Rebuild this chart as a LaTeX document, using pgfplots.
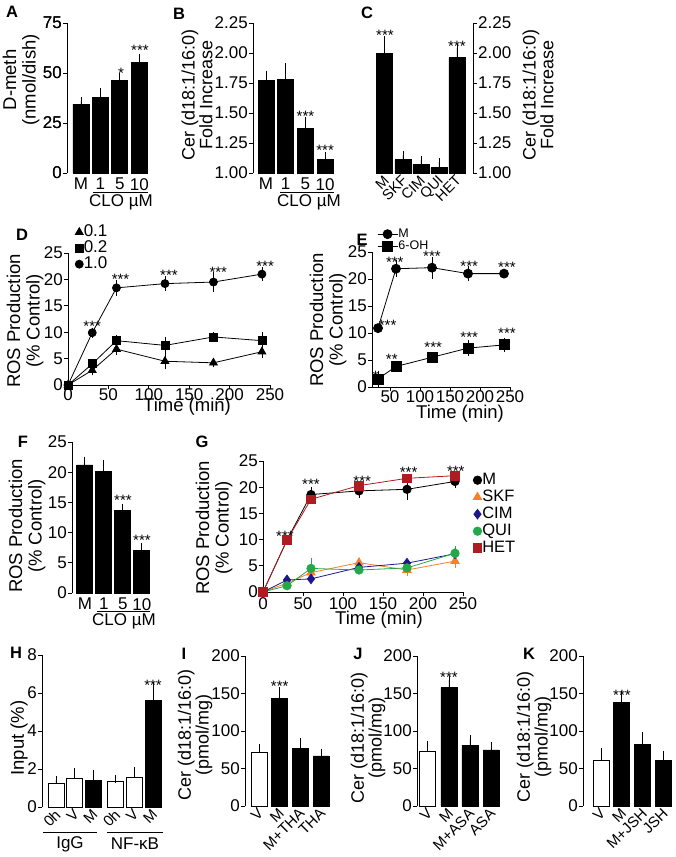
\documentclass[border=0pt]{standalone}
\usepackage{fontspec}
\setmainfont{Liberation Sans}
\usepackage{pgfplots}
\pgfplotsset{compat=1.18}
\definecolor{hetred}{RGB}{172,28,32}
\definecolor{skforange}{RGB}{250,128,35}
\definecolor{cimblue}{RGB}{32,22,140}
\definecolor{quigreen}{RGB}{35,168,75}
\newcommand{\tfont}{\fontsize{17}{17}\selectfont}
\newcommand{\rfont}{\fontsize{15}{15}\selectfont}
\newcommand{\lfont}{\fontsize{18.5}{19.5}\selectfont}
\newcommand{\cfont}{\fontsize{18}{16.5}\selectfont}
\newcommand{\sfont}{\fontsize{15}{15}\selectfont}
\newcommand{\pfont}{\fontsize{16.5}{16.5}\selectfont\bfseries}
\tikzset{st/.style={font=\sfont, anchor=base, yshift=-8.5pt, inner sep=0pt},
 yl/.style={rotate=90, align=center, font=\lfont, inner sep=0pt},
 yc/.style={rotate=90, align=center, font=\cfont, inner sep=0pt},
 pl/.style={font=\pfont, inner sep=0pt},
 ytl/.style={font=\tfont, anchor=east, inner sep=1pt}}
\pgfplotsset{
 base/.style={scale only axis, clip=false, anchor=south west, tick align=outside, major tick length=4pt,
  axis y line*=left, axis x line*=bottom,
  axis line style={-, line width=0.9pt, black},
  tick style={line width=0.9pt, black},
  tick label style={font=\tfont},
  yticklabel style={inner sep=1pt},
  xticklabel style={inner sep=1pt},
  /pgf/number format/assume math mode=true},
 bars/.style={base, x axis line style={draw=none}, xtick style={draw=none}},
 rot/.style={xticklabel style={rotate=45, anchor=north east, inner sep=0.5pt, yshift=4pt, xshift=1pt, font=\rfont}},
 two/.style={yticklabel style={/pgf/number format/fixed, /pgf/number format/fixed zerofill, /pgf/number format/precision=2}},
 bk/.style={ybar, bar width=16pt, bar shift=0pt, fill=black, draw=black, line width=0.9pt,
   /pgfplots/error bars/y dir=plus, /pgfplots/error bars/y explicit,
   /pgfplots/error bars/error bar style={line width=0.9pt, black},
   /pgfplots/error bars/error mark options={mark size=4pt, line width=0.9pt, black}},
 wh/.style={bk, fill=white},
 eb/.style={/pgfplots/error bars/y dir=both, /pgfplots/error bars/y explicit,
   /pgfplots/error bars/error bar style={line width=0.8pt},
   /pgfplots/error bars/error mark options={mark size=3.5pt, line width=0.8pt}},
 ln/.style={line width=0.8pt, mark options={solid}},
}
\begin{document}
\begin{tikzpicture}
\useasboundingbox (0pt,0pt) rectangle (675pt,-857pt);

% ---------- A ----------
\begin{axis}[bars, anchor=north west, at={(67pt,-23pt)}, width=82pt, height=150pt, xmin=-0.72, xmax=3.5, ymin=0, ymax=75,
  ytick={0,25,50,75}, xtick={0,1,2,3}, xticklabels={M,1,5,10}]
\addplot[bk] coordinates {(0,34.5) +- (0,1.5) (1,38) +- (0,2.5) (2,46.5) +- (0,1.5) (3,55.5) +- (0,2)};
\draw[line width=0.9pt] (axis cs:-0.72,0) -- (axis cs:-0.72,75);
\draw[line width=0.9pt] (axis cs:-0.72,0) -- ([xshift=-4pt]axis cs:-0.72,0);
\draw[line width=0.9pt] (axis cs:-0.72,25) -- ([xshift=-4pt]axis cs:-0.72,25);
\draw[line width=0.9pt] (axis cs:-0.72,50) -- ([xshift=-4pt]axis cs:-0.72,50);
\draw[line width=0.9pt] (axis cs:-0.72,75) -- ([xshift=-4pt]axis cs:-0.72,75);
\node[ytl] at ([xshift=-4pt]axis cs:-0.72,0) {0};
\node[ytl] at ([xshift=-4pt]axis cs:-0.72,25) {25};
\node[ytl] at ([xshift=-4pt]axis cs:-0.72,50) {50};
\node[ytl] at ([xshift=-4pt]axis cs:-0.72,75) {75};
\end{axis}
\node[st] at (121pt,-70pt) {*};
\node[st] at (140pt,-47pt) {***};
\draw[line width=0.9pt] (93pt,-192pt) -- (148pt,-192pt);
\node[font=\tfont] at (121pt,-202pt) {CLO µM};
\node[yl] at (21pt,-80pt) {D-meth\\(nmol/dish)};
\node[pl] at (12pt,-12pt) {A};

% ---------- B ----------
\begin{axis}[bars, clip=true, clip mode=individual, two, at={(253pt,-173pt)}, width=82pt, height=150pt,
  xmin=-0.66, xmax=3.5, ymin=1, ymax=2.25, ytick={1,1.25,1.5,1.75,2,2.25},
  xtick={0,1,2,3}, xticklabels={M,1,5,10}]
\addplot[bk] coordinates {(0,1.77) +- (0,0.05) (1,1.78) +- (0,0.10) (2,1.37) +- (0,0.06) (3,1.11) +- (0,0.03)};
\node[st] at (axis cs:2,1.5) {***};
\node[st] at (axis cs:3,1.217) {***};
\end{axis}
\draw[line width=0.9pt] (280pt,-192pt) -- (334pt,-192pt);
\node[font=\tfont] at (309pt,-202pt) {CLO µM};
\node[yc] at (197pt,-95pt) {Cer (d18:1/16:0)\\Fold Increase};
\node[pl] at (179pt,-14pt) {B};

% ---------- C ----------
\begin{axis}[bars, clip=true, clip mode=individual, two, rot, axis y line*=right, at={(370pt,-173pt)}, width=103pt, height=150pt,
  xmin=-0.83, xmax=4.89, ymin=1, ymax=2.25, ytick={1,1.25,1.5,1.75,2,2.25},
  xtick={0,1,2,3,4}, xticklabels={M,SKF,CIM,QUI,HET}, xticklabel style={font=\fontsize{14.5}{14.5}\selectfont}]
\addplot[bk] coordinates {(0,2.0) +- (0,0.11) (1,1.11) +- (0,0.04) (2,1.07) +- (0,0.04) (3,1.045) +- (0,0.045) (4,1.96) +- (0,0.08)};
\node[st] at (axis cs:0,2.175) {***};
\node[st] at (axis cs:4,2.083) {***};
\end{axis}
\node[yc] at (538pt,-95pt) {Cer (d18:1/16:0)\\Fold Increase};
\node[pl] at (367pt,-13pt) {C};

% ---------- D ----------
\begin{axis}[base, at={(68pt,-385pt)}, width=202pt, height=132pt, xmin=0, xmax=250, ymin=0, ymax=25,
  xtick={0,50,100,150,200,250}, ytick={0,5,10,15,20,25}, xticklabel style={yshift=2pt},
  legend style={draw=none, fill=none, at={(0.035,1.22)}, anchor=north west, font=\tfont, inner sep=0pt, row sep=0pt,
    nodes={inner sep=0.5pt, text height=12pt, text depth=3pt}},
  legend cell align=left, legend image code/.code={\draw[#1] plot coordinates {(0pt,0pt)};}]
\addplot[black, ln, mark=triangle*, mark size=4.5pt, eb] coordinates {(0,0) (30,2.8) +- (0,0.3) (60,6.8) +- (0,0.5) (120,4.5) +- (0,0.9) (180,4.2) +- (0,0.2) (240,6.3) +- (0,0.5)};
\addplot[black, ln, mark=square*, mark size=4pt, eb] coordinates {(0,0) (30,4.0) +- (0,0.3) (60,8.4) +- (0,0.5) (120,7.5) +- (0,1.0) (180,9.1) +- (0,0.3) (240,8.4) +- (0,1.0)};
\addplot[black, ln, mark=*, mark size=4pt, eb] coordinates {(0,0) (30,9.9) +- (0,0.3) (60,18.4) +- (0,0.8) (120,19.2) +- (0,0.7) (180,19.5) +- (0,1.3) (240,21.0) +- (0,0.6)};
\legend{0.1,0.2,1.0}
\node[st] at (axis cs:30,11.7) {***};
\node[st] at (axis cs:65,20.6) {***};
\node[st] at (axis cs:125,21.4) {***};
\node[st] at (axis cs:186,22.0) {***};
\node[st] at (axis cs:244,23.1) {***};
\end{axis}
\node[font=\lfont] at (187pt,-407pt) {Time (min)};
\node[yl] at (25pt,-321pt) {ROS Production\\(\% Control)};
\node[pl] at (22pt,-235pt) {D};

% ---------- E ----------
\begin{axis}[base, at={(372pt,-387pt)}, width=138pt, height=135pt, xmin=20, xmax=250, ymin=0, ymax=25,
  xtick={50,100,150,200,250}, ytick={0,5,10,15,20,25}, xticklabel style={yshift=2pt},
  legend style={draw=none, fill=none, at={(0.036,1.18)}, anchor=north west, font=\fontsize{12.5}{12.5}\selectfont, inner sep=0pt, row sep=0pt,
    nodes={inner sep=0.5pt, text height=9pt, text depth=2.5pt}},
  legend cell align=left, legend image code/.code={\draw[mark repeat=2, mark phase=2, #1] plot coordinates {(0pt,0pt) (10pt,0pt) (20pt,0pt)};}]
\addplot[black, ln, mark=*, mark size=4.5pt, eb] coordinates {(30,10.9) (60,21.9) +- (0,0.9) (120,22.1) +- (0,1.4) (180,21.0) +- (0,0.8) (240,21.0)};
\addplot[black, ln, mark=square*, mark size=5pt, eb] coordinates {(30,1.5) +- (0,0.9) (60,3.8) +- (0,0.4) (120,5.5) (180,7.2) +- (0,0.8) (240,7.8) +- (0,0.7)};
\legend{M,6-OH}
\node[st] at (axis cs:46,12.0) {***};
\node[st] at (axis cs:58,23.7) {***};
\node[st] at (axis cs:120,24.8) {***};
\node[st] at (axis cs:182,23.0) {***};
\node[st] at (axis cs:245,22.8) {***};
\node[st] at (axis cs:26,2.6) {*};
\node[st] at (axis cs:53,5.7) {**};
\node[st] at (axis cs:122,8.0) {***};
\node[st] at (axis cs:182,9.8) {***};
\node[st] at (axis cs:245,10.6) {***};
\end{axis}
\node[font=\lfont] at (460pt,-414pt) {Time (min)};
\node[yl] at (328pt,-320pt) {ROS Production\\(\% Control)};
\node[pl] at (362pt,-240pt) {E};

% ---------- F ----------
\begin{axis}[bars, at={(72pt,-593pt)}, width=80pt, height=151pt, xmin=-0.68, xmax=3.53, ymin=0, ymax=25,
  ytick={0,5,10,15,20,25}, xtick={0,1,2,3}, xticklabels={M,1,5,10}]
\addplot[bk] coordinates {(0,21.2) +- (0,0.7) (1,20.1) +- (0,1.2) (2,13.6) +- (0,0.5) (3,7.0) +- (0,0.6)};
\node[st] at (axis cs:2,15.9) {***};
\node[st] at (axis cs:3,9.3) {***};
\end{axis}
\draw[line width=0.9pt] (97pt,-611pt) -- (150pt,-611pt);
\node[font=\tfont] at (124pt,-621pt) {CLO µM};
\node[yl] at (27pt,-526pt) {ROS Production\\(\% Control)};
\node[pl] at (23pt,-442pt) {F};

% ---------- G ----------
\begin{axis}[base, at={(263pt,-592pt)}, width=200pt, height=131pt, xmin=0, xmax=250, ymin=0, ymax=25,
  xtick={0,50,100,150,200,250}, ytick={0,5,10,15,20,25},
  legend style={draw=none, fill=none, at={(1.05,0.92)}, anchor=north west, font=\fontsize{16.5}{16.5}\selectfont, inner sep=0pt, row sep=0pt,
    nodes={inner sep=0.5pt, text height=12.5pt, text depth=3.5pt}},
  legend cell align=left, legend image code/.code={\draw[#1] plot coordinates {(0pt,0pt)};}]
\addplot[black, ln, mark=*, mark size=4.2pt, eb] coordinates {(0,0) (30,9.9) (60,18.6) +- (0,0.8) (120,19.3) +- (0,0.7) (180,19.6) +- (0,1.3) (240,21.1) +- (0,0.6)};
\addplot[skforange, ln, mark=triangle*, mark size=4.8pt, eb] coordinates {(0,0) (30,1.7) (60,3.7) +- (0,0.3) (120,5.6) (180,4.2) +- (0,0.5) (240,5.9) +- (0,0.6)};
\addplot[cimblue, ln, mark=diamond*, mark size=4.8pt] coordinates {(0,0) (30,2.3) (60,2.5) (120,4.7) (180,5.5) (240,7.3)};
\addplot[quigreen, ln, mark=*, mark size=4.2pt, eb] coordinates {(0,0) (30,1.2) (60,4.5) +- (0,1.4) (120,4.2) (180,4.6) (240,7.4) +- (0,0.8)};
\addplot[hetred, ln, mark=square*, mark size=4.3pt] coordinates {(0,0) (30,9.9) (60,17.7) (120,20.3) (180,21.7) (240,22.2)};
\legend{M,SKF,CIM,QUI,HET}
\node[st] at (axis cs:27.5,11.3) {***};
\node[st] at (axis cs:60,21.2) {***};
\node[st] at (axis cs:124,21.8) {***};
\node[st] at (axis cs:182,23.5) {***};
\node[st] at (axis cs:241,23.7) {***};
\end{axis}
\node[font=\lfont] at (379pt,-620pt) {Time (min)};
\node[yl] at (214pt,-528pt) {ROS Production\\(\% Control)};
\node[pl] at (202pt,-442pt) {G};

% ---------- H ----------
\begin{axis}[bars, rot, at={(42pt,-807pt)}, width=123pt, height=152pt, xmin=-0.75, xmax=5.84, ymin=0, ymax=8,
  ytick={0,2,4,6,8}, xtick={0,1,2,3.2,4.2,5.2}, xticklabels={0h,V,M,0h,V,M}]
\addplot[wh] coordinates {(0,1.22) +- (0,0.2) (1,1.52) +- (0,0.33) (3.2,1.35) +- (0,0.1) (4.2,1.55) +- (0,0.35)};
\addplot[bk] coordinates {(2,1.4) +- (0,0.35) (5.2,5.6) +- (0,0.75)};
\node[st] at (axis cs:5.2,6.6) {***};
\end{axis}
\draw[line width=0.9pt] (43pt,-832pt) -- (97pt,-832pt);
\draw[line width=0.9pt] (107pt,-832pt) -- (163pt,-832pt);
\node[font=\tfont] at (70pt,-844pt) {IgG};
\node[font=\tfont] at (135pt,-844pt) {NF-κB};
\node[yl] at (19pt,-738pt) {Input (\%)};
\node[pl] at (16pt,-653pt) {H};

% ---------- I ----------
\begin{axis}[bars, rot, at={(245pt,-806pt)}, width=88pt, height=150pt, xmin=-0.68, xmax=3.58, ymin=0, ymax=200,
  ytick={0,50,100,150,200}, xtick={0,1,2,3}, xticklabels={V,M,M+THA,THA}]
\addplot[wh] coordinates {(0,71) +- (0,6)};
\addplot[bk] coordinates {(1,143.6) +- (0,10) (2,77) +- (0,8) (3,66.7) +- (0,4.5)};
\node[st] at (axis cs:1,164) {***};
\end{axis}
\node[yc] at (195pt,-735pt) {Cer (d18:1/16:0)\\(pmol/mg)};
\node[pl] at (184pt,-654pt) {I};

% ---------- J ----------
\begin{axis}[bars, rot, at={(417pt,-806pt)}, width=86pt, height=150pt, xmin=-0.52, xmax=3.57, ymin=0, ymax=200,
  ytick={0,50,100,150,200}, xtick={0,1,2,3}, xticklabels={V,M,M+ASA,ASA}]
\addplot[wh] coordinates {(0,73.3) +- (0,8)};
\addplot[bk] coordinates {(1,157.8) +- (0,10) (2,81.3) +- (0,7.7) (3,74.7) +- (0,5.5)};
\node[st] at (axis cs:1,176) {***};
\end{axis}
\node[yc] at (368pt,-738pt) {Cer (d18:1/16:0)\\(pmol/mg)};
\node[pl] at (358pt,-654pt) {J};

% ---------- K ----------
\begin{axis}[bars, rot, at={(583pt,-806pt)}, width=92pt, height=150pt, xmin=-0.87, xmax=3.55, ymin=0, ymax=200,
  ytick={0,50,100,150,200}, xtick={0,1,2,3}, xticklabels={V,M,M+JSH,JSH}]
\addplot[wh] coordinates {(0,61.3) +- (0,11)};
\addplot[bk] coordinates {(1,137.8) +- (0,10) (2,82.2) +- (0,11) (3,60.4) +- (0,7.5)};
\node[st] at (axis cs:1,152) {***};
\end{axis}
\node[yc] at (534pt,-737pt) {Cer (d18:1/16:0)\\(pmol/mg)};
\node[pl] at (529pt,-654pt) {K};
\end{tikzpicture}
\end{document}
